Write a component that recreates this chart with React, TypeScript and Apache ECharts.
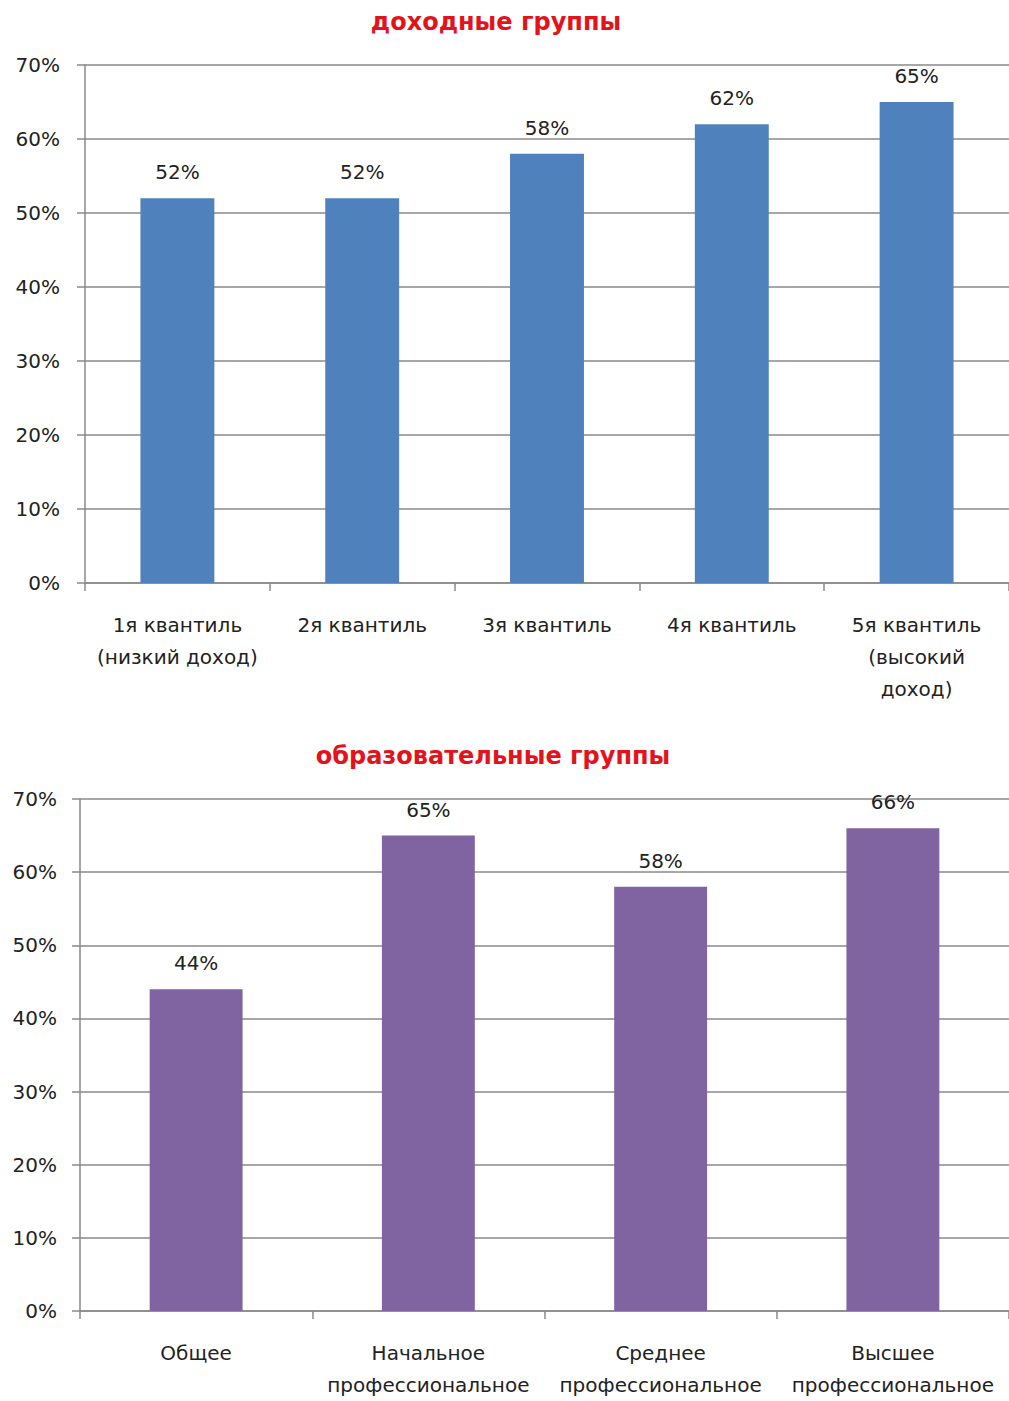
import React, { useEffect, useRef } from "react";
import * as echarts from "echarts";

const incomeCategories = [
  "1я квантиль\n(низкий доход)",
  "2я квантиль",
  "3я квантиль",
  "4я квантиль",
  "5я квантиль\n(высокий\nдоход)",
];
const incomeValues = [52, 52, 58, 62, 65];

const eduCategories = [
  "Общее",
  "Начальное\nпрофессиональное",
  "Среднее\nпрофессиональное",
  "Высшее\nпрофессиональное",
];
const eduValues = [44, 65, 58, 66];

const titles = ["доходные группы", "образовательные группы"];
const FONT = "'DejaVu Sans', sans-serif";
const GRID_COLOR = "#8a8a8a";
const TEXT_COLOR = "#222";

export default function App() {
  const ref = useRef<HTMLDivElement>(null);
  useEffect(() => {
    if (!ref.current) return;
    const chart = echarts.init(ref.current, undefined, { renderer: "svg" });
    const yAxisBase = (gridIndex: number, margin: number) => ({
      type: "value" as const,
      gridIndex,
      min: 0,
      max: 70,
      interval: 10,
      axisLine: { show: true, lineStyle: { color: GRID_COLOR, width: 1.5 } },
      axisTick: { show: true, length: 8, lineStyle: { color: GRID_COLOR, width: 1.5 } },
      splitLine: { show: true, lineStyle: { color: GRID_COLOR, width: 1.5 } },
      axisLabel: {
        formatter: "{value}%",
        fontSize: 20,
        fontFamily: FONT,
        color: TEXT_COLOR,
        margin,
      },
    });
    const xAxisBase = (gridIndex: number, data: string[]) => ({
      type: "category" as const,
      gridIndex,
      data,
      axisLine: { show: true, lineStyle: { color: GRID_COLOR, width: 1.5 } },
      axisTick: { show: true, length: 8, alignWithLabel: false, lineStyle: { color: GRID_COLOR, width: 1.5 } },
      axisLabel: {
        interval: 0,
        fontSize: 20,
        lineHeight: 32,
        fontFamily: FONT,
        color: TEXT_COLOR,
        margin: 26,
      },
    });
    const labelCfg = {
      show: true,
      position: "top" as const,
      distance: 16,
      formatter: "{c}%",
      fontSize: 20,
      fontFamily: FONT,
      color: TEXT_COLOR,
    };
    chart.setOption({
      animation: false,
      backgroundColor: "#ffffff",
      title: [
        {
          text: titles[0],
          left: 491,
          top: 5,
          textAlign: "center",
          textStyle: { color: "#e3121b", fontSize: 24, fontWeight: "bold", fontFamily: FONT },
        },
        {
          text: titles[1],
          left: 488,
          top: 739,
          textAlign: "center",
          textStyle: { color: "#e3121b", fontSize: 24, fontWeight: "bold", fontFamily: FONT },
        },
      ],
      grid: [
        { left: 85, top: 65, width: 926, height: 518 },
        { left: 80, top: 799, width: 929, height: 517 },
      ],
      xAxis: [xAxisBase(0, incomeCategories), xAxisBase(1, eduCategories)],
      yAxis: [yAxisBase(0, 25), yAxisBase(1, 23)],
      series: [
        {
          type: "bar",
          xAxisIndex: 0,
          yAxisIndex: 0,
          data: incomeValues,
          barWidth: "40%",
          itemStyle: { color: "#4f81bd" },
          label: labelCfg,
        },
        {
          type: "bar",
          xAxisIndex: 1,
          yAxisIndex: 1,
          data: eduValues,
          barWidth: "40%",
          itemStyle: { color: "#8064a2" },
          label: labelCfg,
        },
      ],
    });
    return () => chart.dispose();
  }, []);
  return (
    <div
      ref={ref}
      style={{ position: "absolute", left: 0, top: 0, width: 1009, height: 1401 }}
    />
  );
}
